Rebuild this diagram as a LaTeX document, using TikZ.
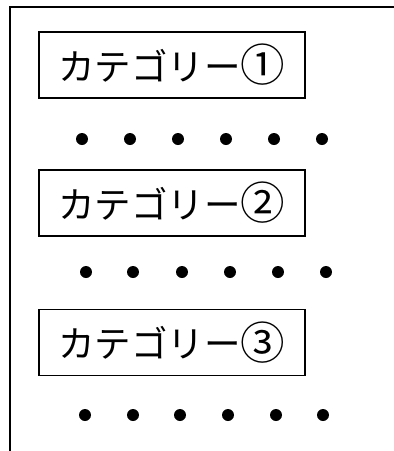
\documentclass[tikz,border=0pt]{standalone}
\usepackage{fontspec}
\usepackage{graphicx}
\newfontfamily\jpfont{Noto Sans CJK JP}
\newcommand{\cnum}[1]{\raisebox{-0.04em}{\scalebox{1.22}{#1}}}
\begin{document}
\begin{tikzpicture}[x=1pt,y=-1pt,
  catbox/.style={draw,line width=1.5pt,minimum width=266pt,minimum height=66pt,inner sep=0pt,font=\jpfont\fontsize{36.5}{36.5}\selectfont},
  dotmark/.style={fill=black,circle,inner sep=0pt,minimum size=12pt}]
\useasboundingbox (0,0) rectangle (394,451);
\coordinate (fb) at (10,451);
\coordinate (ftl) at (10,7);
\coordinate (ftr) at (394,7);
\draw[line width=2pt] (fb) -- (ftl) -- (ftr);
\node[catbox] (c1) at (172,65) {カテゴリー\cnum{①}};
\node[catbox] (c2) at (172,203) {カテゴリー\cnum{②}};
\node[catbox] (c3) at (172,342.5) {カテゴリー\cnum{③}};
\foreach \i/\x in {1/82,2/130,3/178,4/226,5/274,6/322}{
  \node[dotmark] (da\i) at (\x,139) {};
}
\foreach \i/\x in {1/86,2/133,3/182,4/230,5/278,6/326}{
  \node[dotmark] (db\i) at (\x,272) {};
}
\foreach \i/\x in {1/85,2/133,3/180,4/228,5/276,6/323}{
  \node[dotmark] (dc\i) at (\x,415) {};
}
\end{tikzpicture}
\end{document}
